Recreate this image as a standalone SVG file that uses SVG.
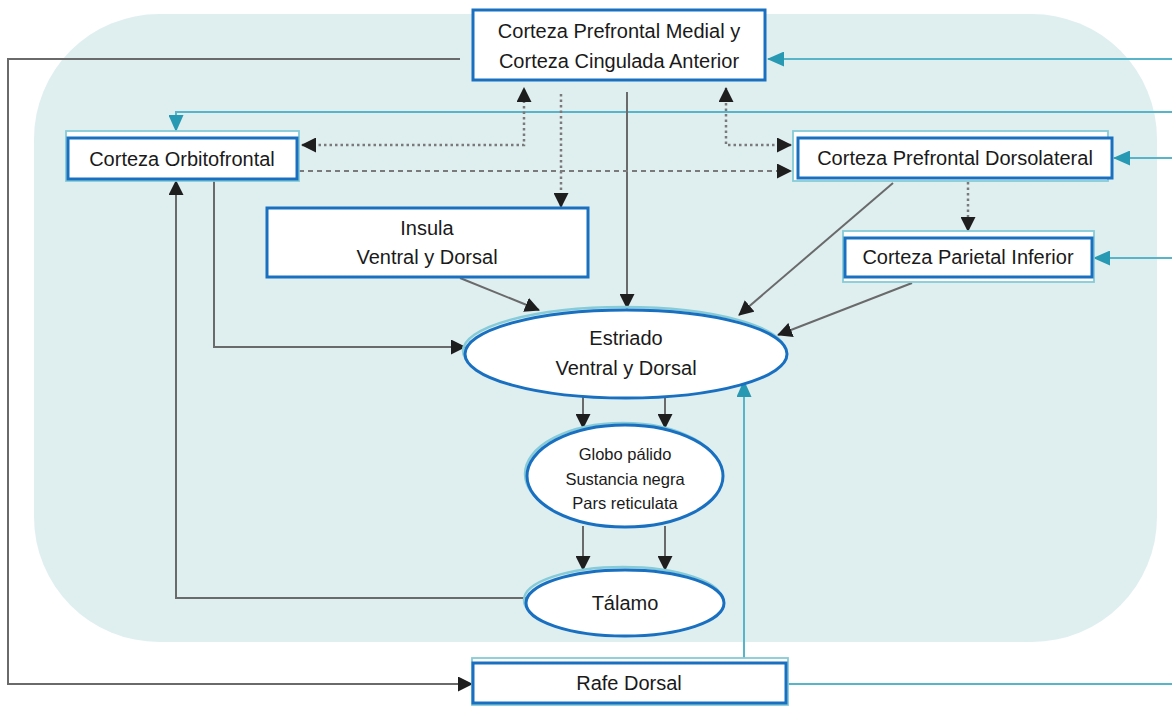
<svg xmlns="http://www.w3.org/2000/svg" width="1172" height="707" viewBox="0 0 1172 707">
  <defs>
    <style>
      .bg { fill: #dfeff0; }
      .box { fill: #ffffff; stroke: #1a70c0; stroke-width: 3; }
      .halo { fill: #ffffff; stroke: #86cbd8; stroke-width: 1.8; }
      .haloE { fill: none; stroke: #86cbd8; stroke-width: 2.5; }
      .lbl { font-family: "Liberation Sans", Arial, sans-serif; font-size: 20px; fill: #1a1a1a; text-anchor: middle; }
      .sm { font-size: 16.5px; }
      .solid { fill: none; stroke: #6a6a6a; stroke-width: 2; }
      .dash { fill: none; stroke: #7a7a7a; stroke-width: 2.2; stroke-dasharray: 5 4; }
      .dot { fill: none; stroke: #7a7a7a; stroke-width: 2.5; stroke-dasharray: 2.5 3; }
      .teal { fill: none; stroke: #58b5c9; stroke-width: 2; }
    </style>
    <marker id="ah" viewBox="0 0 15 15" refX="14" refY="7.5" markerWidth="15" markerHeight="15" markerUnits="userSpaceOnUse" orient="auto-start-reverse">
      <path d="M0,0 L15,7.5 L0,15 z" fill="#1e1e1e"/>
    </marker>
    <marker id="aht" viewBox="0 0 17 15" refX="16" refY="7.5" markerWidth="17" markerHeight="15" markerUnits="userSpaceOnUse" orient="auto">
      <path d="M0,0 L17,7.5 L0,15 z" fill="#2799b3"/>
    </marker>
  </defs>

  <!-- shaded background region -->
  <rect class="bg" x="34" y="14" width="1123" height="628" rx="125" ry="125"/>

  <!-- connectors -->
  <g id="connectors">
    <path class="solid" d="M460,59 H8 V684 H472" marker-end="url(#ah)"/>
    <path class="teal" d="M1172,59 H768" marker-end="url(#aht)"/>
    <path class="teal" d="M1172,112 H176 V131" marker-end="url(#aht)"/>
    <path class="teal" d="M1172,158 H1114" marker-end="url(#aht)"/>
    <path class="teal" d="M1172,258 H1094" marker-end="url(#aht)"/>
    <path class="teal" d="M788,684 H1172"/>
    <path class="teal" d="M744,658 V381" marker-end="url(#aht)"/>

    <path class="solid" d="M627,92 V308" marker-end="url(#ah)"/>
    <path class="dot" d="M302,145 H524 V88" marker-start="url(#ah)" marker-end="url(#ah)"/>
    <path class="dot" d="M791,145 H726 V88" marker-start="url(#ah)" marker-end="url(#ah)"/>
    <path class="dash" d="M299,171 H791" marker-end="url(#ah)"/>
    <path class="dot" d="M561,94 V207" marker-end="url(#ah)"/>
    <path class="dot" d="M968,182 V231" marker-end="url(#ah)"/>

    <path class="solid" d="M214,181 V347 H465" marker-end="url(#ah)"/>
    <path class="solid" d="M526,598 H176 V181" marker-end="url(#ah)"/>
    <path class="solid" d="M460,278 L539,310" marker-end="url(#ah)"/>
    <path class="solid" d="M893,183 L739,315" marker-end="url(#ah)"/>
    <path class="solid" d="M912,283 L778,335" marker-end="url(#ah)"/>

    <path class="solid" d="M583,397 V428" marker-end="url(#ah)"/>
    <path class="solid" d="M665,397 V428" marker-end="url(#ah)"/>
    <path class="solid" d="M583,526 V570" marker-end="url(#ah)"/>
    <path class="solid" d="M665,526 V570" marker-end="url(#ah)"/>
  </g>

  <!-- nodes -->
  <g id="mpfc">
    <rect class="box" x="473" y="10" width="292" height="70"/>
    <text class="lbl" x="619" y="38">Corteza Prefrontal Medial y</text>
    <text class="lbl" x="619" y="68">Corteza Cingulada Anterior</text>
  </g>

  <g id="ofc">
    <rect class="halo" x="66" y="131" width="233" height="50"/>
    <rect class="box" x="68" y="138" width="229" height="41"/>
    <text class="lbl" x="182" y="166">Corteza Orbitofrontal</text>
  </g>

  <g id="dlpfc">
    <rect class="halo" x="793" y="131" width="315" height="50"/>
    <rect class="box" x="798" y="138" width="314" height="40"/>
    <text class="lbl" x="955" y="165">Corteza Prefrontal Dorsolateral</text>
  </g>

  <g id="parietal">
    <rect class="halo" x="843" y="231" width="251" height="51"/>
    <rect class="box" x="845" y="238" width="247" height="39"/>
    <text class="lbl" x="968" y="264">Corteza Parietal Inferior</text>
  </g>

  <g id="insula">
    <rect class="box" x="267" y="208" width="321" height="69"/>
    <text class="lbl" x="427" y="235">Insula</text>
    <text class="lbl" x="427" y="264">Ventral y Dorsal</text>
  </g>

  <g id="estriado">
    <ellipse class="haloE" cx="624" cy="351" rx="161" ry="44"/>
    <ellipse class="box" cx="626" cy="354" rx="161" ry="44"/>
    <text class="lbl" x="626" y="345">Estriado</text>
    <text class="lbl" x="626" y="375">Ventral y Dorsal</text>
  </g>

  <g id="globo">
    <ellipse class="haloE" cx="623" cy="474" rx="98" ry="51"/>
    <ellipse class="box" cx="625" cy="476" rx="98" ry="51"/>
    <text class="lbl sm" x="625" y="460">Globo pálido</text>
    <text class="lbl sm" x="625" y="485">Sustancia negra</text>
    <text class="lbl sm" x="625" y="509">Pars reticulata</text>
  </g>

  <g id="talamo">
    <ellipse class="haloE" cx="623" cy="600" rx="99" ry="33"/>
    <ellipse class="box" cx="625" cy="603" rx="99" ry="33"/>
    <text class="lbl" x="625" y="610" font-size="21">Tálamo</text>
  </g>

  <g id="rafe">
    <rect class="halo" x="472" y="658" width="316" height="47"/>
    <rect class="box" x="473" y="663" width="313" height="40"/>
    <text class="lbl" x="629" y="690">Rafe Dorsal</text>
  </g>
</svg>
